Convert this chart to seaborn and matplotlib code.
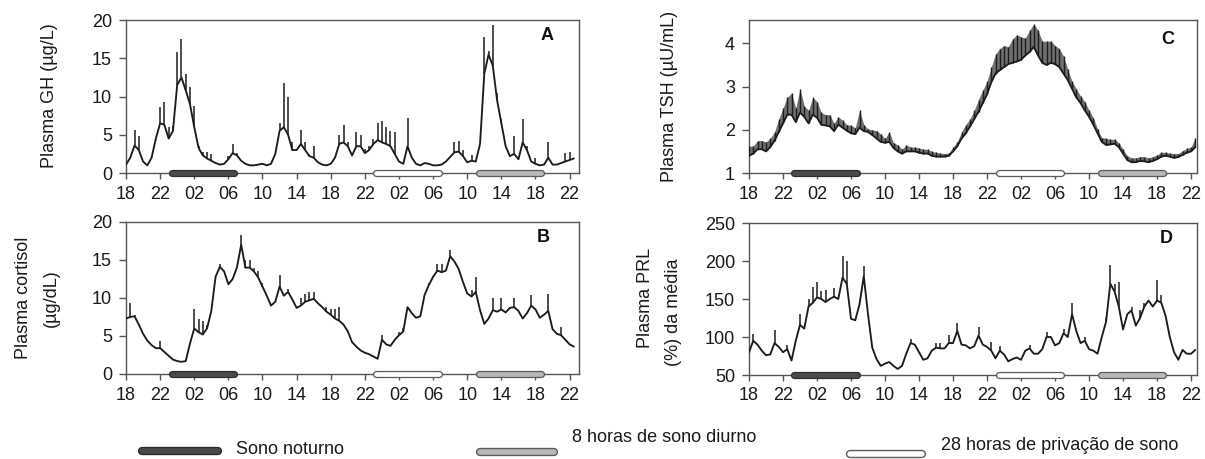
import numpy as np
import pandas as pd
import matplotlib
matplotlib.use("Agg")
import matplotlib.pyplot as plt
from matplotlib.lines import Line2D
import seaborn as sns

# ---------------- data (hours since 18:00 of day 1, 30-min steps) ----------------
hours = np.arange(0, 53, 0.5)  # 0 .. 52.5
tick_hours = list(range(0, 53, 4))
tick_labels = ["18", "22", "02", "06", "10", "14", "18", "22", "02", "06", "10", "14", "18", "22"]

gh = [1.1, 2.0, 3.6, 3.0, 1.5, 1.0, 2.0, 4.5, 6.5, 6.3,
      4.5, 5.5, 11.5, 12.5, 10.8, 9.0, 6.0, 3.3, 2.3, 1.9,
      1.6, 1.3, 1.1, 1.2, 1.8, 2.6, 2.3, 1.6, 1.2, 1.0,
      1.0, 1.1, 1.2, 1.0, 1.2, 2.5, 5.5, 6.0, 5.0, 3.0,
      3.0, 3.8, 3.0, 2.2, 2.0, 1.4, 1.1, 1.0, 1.2, 2.0,
      3.8, 4.0, 3.5, 2.3, 3.5, 3.5, 2.6, 3.0, 3.8, 4.3,
      4.0, 3.8, 3.5, 2.5, 1.5, 1.2, 3.5, 2.0, 1.2, 1.0,
      1.3, 1.2, 1.0, 1.0, 1.1, 1.5, 2.1, 2.7, 2.8, 2.2,
      1.4, 1.6, 1.5, 3.8, 13.0, 15.5, 14.0, 9.5, 6.5, 3.5,
      2.2, 2.5, 1.8, 4.0, 3.0, 1.5, 1.2, 1.0, 1.1, 2.0,
      1.1, 1.1, 1.3, 1.5, 1.7, 1.9]
gh_peak = [1.1, 2.0, 5.6, 4.8, 1.5, 1.0, 2.0, 4.5, 8.6, 9.3,
           6.0, 6.2, 15.8, 17.5, 13.0, 11.3, 8.8, 3.5, 2.8, 2.7,
           2.5, 1.3, 1.1, 1.2, 2.2, 3.8, 2.6, 1.6, 1.2, 1.0,
           1.0, 1.1, 1.3, 1.0, 1.2, 2.5, 6.5, 11.8, 10.0, 4.0,
           3.0, 5.6, 4.0, 2.5, 3.5, 1.4, 1.1, 1.0, 1.2, 2.0,
           5.0, 6.3, 4.0, 2.3, 5.3, 5.0, 3.2, 3.5, 4.5, 6.5,
           6.8, 6.0, 5.5, 5.4, 1.5, 1.2, 7.2, 2.0, 1.2, 1.0,
           1.3, 1.2, 1.0, 1.0, 1.1, 1.5, 2.1, 4.0, 4.2, 3.0,
           1.4, 2.3, 1.5, 3.8, 17.8, 16.0, 19.3, 10.5, 7.0, 3.5,
           2.2, 4.8, 1.8, 7.0, 3.5, 1.5, 2.0, 1.0, 1.1, 4.0,
           1.1, 1.1, 1.3, 2.6, 2.8, 1.9]

cortisol = [7.3, 7.5, 7.6, 6.5, 5.3, 4.4, 3.8, 3.4, 3.4, 2.9,
            2.4, 1.9, 1.7, 1.6, 1.7, 4.0, 6.0, 5.5, 5.2, 6.0,
            8.3, 12.8, 14.1, 13.5, 11.8, 12.5, 14.0, 17.0, 14.0, 14.0,
            13.5, 12.7, 11.5, 10.3, 9.0, 9.5, 11.5, 10.3, 10.8, 9.8,
            8.7, 9.0, 9.5, 9.7, 9.9, 9.3, 8.8, 8.2, 7.8, 7.3,
            7.0, 6.5, 5.6, 4.2, 3.6, 3.1, 2.8, 2.6, 2.3, 2.0,
            4.5, 3.9, 3.7, 4.5, 5.1, 5.6, 8.8, 8.0, 7.4, 7.6,
            10.4, 11.7, 12.8, 13.6, 13.4, 13.6, 15.5, 14.8, 13.8, 12.1,
            10.6, 10.2, 10.8, 8.4, 6.6, 7.3, 8.4, 8.2, 8.5, 8.1,
            8.7, 8.8, 8.3, 7.3, 8.0, 9.0, 8.5, 7.4, 7.8, 8.3,
            5.9, 5.3, 5.1, 4.5, 3.9, 3.6]
cortisol_peak = [7.3, 9.3, 7.8, 6.5, 5.3, 4.4, 3.8, 3.4, 4.4, 2.9,
                 2.4, 1.9, 1.7, 1.6, 1.7, 4.0, 8.5, 7.3, 7.0, 6.5,
                 8.3, 12.8, 14.5, 13.5, 11.8, 12.5, 14.0, 18.3, 15.0, 15.0,
                 14.0, 13.5, 12.0, 10.3, 9.0, 9.5, 13.0, 10.3, 11.2, 9.8,
                 8.7, 10.0, 10.5, 10.8, 10.8, 9.3, 8.8, 8.8, 8.5, 8.5,
                 8.8, 6.5, 5.6, 4.2, 3.6, 3.1, 2.8, 2.6, 2.3, 2.0,
                 5.1, 3.9, 3.7, 4.5, 5.5, 6.0, 8.8, 8.0, 7.4, 7.6,
                 10.4, 12.0, 12.8, 14.5, 14.5, 13.6, 16.3, 14.8, 13.8, 12.1,
                 10.6, 11.0, 12.8, 8.4, 6.6, 7.3, 10.0, 8.2, 10.0, 8.1,
                 8.7, 10.0, 8.3, 7.3, 8.0, 10.4, 8.5, 7.4, 7.8, 10.5,
                 5.9, 5.3, 6.2, 4.5, 3.9, 3.6]

tsh = [1.40, 1.45, 1.55, 1.55, 1.50, 1.60, 1.75, 1.95, 2.15, 2.35,
       2.35, 2.18, 2.40, 2.30, 2.15, 2.35, 2.28, 2.12, 2.10, 2.08,
       1.97, 2.12, 2.05, 1.98, 1.92, 1.90, 2.05, 1.97, 1.95, 1.88,
       1.80, 1.72, 1.70, 1.72, 1.58, 1.50, 1.45, 1.50, 1.50, 1.50,
       1.47, 1.45, 1.45, 1.40, 1.38, 1.38, 1.38, 1.40, 1.50, 1.62,
       1.80, 1.92, 2.08, 2.25, 2.42, 2.62, 2.82, 3.10, 3.30, 3.38,
       3.45, 3.52, 3.55, 3.58, 3.62, 3.72, 3.80, 3.92, 3.72, 3.55,
       3.50, 3.55, 3.52, 3.45, 3.30, 3.15, 2.95, 2.75, 2.62, 2.45,
       2.30, 2.12, 1.92, 1.72, 1.65, 1.66, 1.68, 1.60, 1.45, 1.30,
       1.25, 1.25, 1.28, 1.27, 1.25, 1.28, 1.32, 1.38, 1.40, 1.38,
       1.35, 1.37, 1.42, 1.47, 1.50, 1.60]
tsh_peak = [1.62, 1.62, 1.75, 1.75, 1.72, 1.80, 1.95, 2.25, 2.50, 2.75,
            2.85, 2.50, 2.95, 2.55, 2.45, 2.75, 2.65, 2.40, 2.35, 2.35,
            2.15, 2.30, 2.22, 2.12, 2.10, 2.05, 2.45, 2.12, 2.02, 2.00,
            1.98, 1.90, 1.80, 1.95, 1.70, 1.65, 1.55, 1.65, 1.60, 1.60,
            1.58, 1.55, 1.55, 1.50, 1.48, 1.46, 1.45, 1.46, 1.60, 1.72,
            1.95, 2.12, 2.25, 2.45, 2.70, 2.92, 3.12, 3.45, 3.75, 3.88,
            3.95, 3.92, 4.10, 4.20, 4.15, 4.12, 4.30, 4.45, 4.30, 4.05,
            4.05, 4.05, 3.95, 3.88, 3.70, 3.40, 3.12, 2.95, 2.78, 2.65,
            2.45, 2.28, 2.02, 1.82, 1.80, 1.78, 1.78, 1.70, 1.55, 1.40,
            1.35, 1.35, 1.38, 1.38, 1.35, 1.38, 1.42, 1.48, 1.48, 1.46,
            1.45, 1.45, 1.52, 1.57, 1.60, 1.82]

prl = [80, 95, 90, 82, 76, 77, 92, 87, 80, 84,
       69, 95, 116, 111, 140, 145, 152, 150, 146, 150,
       153, 150, 178, 170, 124, 122, 143, 180, 130, 86,
       71, 62, 65, 67, 62, 58, 62, 78, 92, 90,
       80, 70, 72, 82, 86, 85, 85, 92, 92, 108,
       90, 89, 85, 88, 102, 90, 87, 82, 72, 82,
       77, 68, 71, 73, 70, 82, 85, 78, 78, 84,
       100, 100, 89, 92, 105, 100, 130, 108, 92, 95,
       84, 82, 78, 100, 120, 170, 160, 140, 110, 130,
       135, 115, 125, 140, 148, 140, 148, 145, 128, 100,
       80, 70, 83, 78, 78, 83]
prl_peak = [80, 104, 90, 82, 76, 77, 109, 87, 80, 90,
            69, 95, 130, 111, 150, 166, 172, 160, 162, 150,
            165, 150, 207, 200, 124, 122, 143, 194, 130, 86,
            71, 62, 65, 67, 62, 58, 62, 78, 98, 90,
            80, 70, 72, 82, 92, 92, 85, 102, 92, 118,
            90, 89, 85, 88, 113, 90, 87, 93, 72, 88,
            77, 68, 71, 73, 70, 82, 90, 78, 78, 84,
            107, 100, 89, 92, 111, 100, 145, 108, 92, 100,
            84, 82, 78, 100, 125, 195, 170, 172, 110, 130,
            140, 115, 135, 145, 148, 140, 175, 155, 128, 100,
            80, 70, 83, 78, 78, 83]

# sleep conditions (start, end in hours since 18:00)
sono_noturno = (5, 13)       # 23:00 - 07:00
privacao = (29, 37)          # night of sleep deprivation
sono_diurno = (41, 49)       # 11:00 - 19:00

legend_labels = ["Sono noturno", "8 horas de sono diurno", "28 horas de privação de sono"]

# ---------------- style ----------------
sns.set_theme(style="ticks")
plt.rcParams["font.family"] = ["Liberation Sans", "DejaVu Sans"]

W, H = 1205, 459
fig = plt.figure(figsize=(W / 100, H / 100), dpi=100)

LINE = "#1c1c1c"
SPINE = "#555555"
BAR_STYLES = {
    "night": ("#4a4a4a", "#2e2e2e"),
    "dep": ("#ffffff", "#5a5a5a"),
    "day": ("#b8b8b8", "#5a5a5a"),
}


def add_axes_px(l, t, r, b):
    return fig.add_axes([l / W, 1 - b / H, (r - l) / W, (b - t) / H])


def sleep_bar(ax, period, style, y):
    fill, edge = BAR_STYLES[style]
    s, e = period
    ax.plot([s + 0.35, e - 0.35], [y, y], lw=5.2, color=edge, solid_capstyle="round",
            clip_on=False, zorder=6)
    ax.plot([s + 0.35, e - 0.35], [y, y], lw=3.4, color=fill, solid_capstyle="round",
            clip_on=False, zorder=7)


panels = [
    dict(box=(126, 20, 579, 173), xmax=53.1, ylim=(0, 20), yticks=[0, 5, 10, 15, 20],
         base=gh, peak=gh_peak, letter="A", lpos=(0.93, 0.90), band=False),
    dict(box=(126, 222, 579, 374), xmax=53.1, ylim=(0, 20), yticks=[0, 5, 10, 15, 20],
         base=cortisol, peak=cortisol_peak, letter="B", lpos=(0.922, 0.90), band=False),
    dict(box=(749, 20, 1197, 173), xmax=52.7, ylim=(1, 4.54), yticks=[1, 2, 3, 4],
         base=tsh, peak=tsh_peak, letter="C", lpos=(0.935, 0.87), band=True),
    dict(box=(749, 223, 1197, 375), xmax=52.7, ylim=(50, 250), yticks=[50, 100, 150, 200, 250],
         base=prl, peak=prl_peak, letter="D", lpos=(0.932, 0.90), band=False),
]

for p in panels:
    ax = add_axes_px(*p["box"])
    base = np.array(p["base"], dtype=float)
    peak = np.array(p["peak"], dtype=float)
    df = pd.DataFrame({"hora": hours, "valor": base})
    if p["band"]:
        ax.fill_between(hours, base, peak, color="#707070", lw=0, zorder=2)
        ax.vlines(hours, base, peak, color=LINE, lw=1.0, zorder=3)
    else:
        m = peak > base
        ax.vlines(hours[m], base[m], peak[m], color=LINE, lw=1.1, zorder=3)
    sns.lineplot(data=df, x="hora", y="valor", ax=ax, color=LINE, lw=1.35, zorder=4)

    ax.set_xlim(0, p["xmax"])
    ax.set_ylim(*p["ylim"])
    ax.set_xticks(tick_hours)
    ax.set_xticklabels(tick_labels)
    ax.set_yticks(p["yticks"])
    ax.set_xlabel("")
    ax.set_ylabel("")
    for sp in ax.spines.values():
        sp.set_visible(True)
        sp.set_color(SPINE)
        sp.set_linewidth(1.0)
    ax.tick_params(axis="x", length=4, width=1.0, pad=5, colors=SPINE,
                   labelcolor="#1a1a1a", labelsize=13)
    ax.tick_params(axis="y", length=5, width=1.0, pad=5, colors=SPINE,
                   labelcolor="#1a1a1a", labelsize=13)
    ax.text(*p["lpos"], p["letter"], transform=ax.transAxes, fontsize=13,
            fontweight="bold", ha="center", va="center", color="#111111")

    y0 = p["ylim"][0]
    sleep_bar(ax, sono_noturno, "night", y0)
    sleep_bar(ax, privacao, "dep", y0)
    sleep_bar(ax, sono_diurno, "day", y0)


def ftext(x, y, s, **kw):
    fig.text(x / W, 1 - y / H, s, fontsize=13, color="#1a1a1a", **kw)


# y labels
ftext(50, 96, "Plasma GH (µg/L)", rotation=90, ha="center", va="center")
ftext(24, 298, "Plasma cortisol", rotation=90, ha="center", va="center")
ftext(51, 298, "(µg/dL)", rotation=90, ha="center", va="center")
ftext(669, 96, "Plasma TSH (µU/mL)", rotation=90, ha="center", va="center")
ftext(645, 298, "Plasma PRL", rotation=90, ha="center", va="center")
ftext(673, 312, "(%) da média", rotation=90, ha="center", va="center")

# legend at bottom


def legend_bar(x0, x1, y, style):
    fill, edge = BAR_STYLES[style]
    for lw, c in ((6.0, edge), (4.0, fill)):
        fig.add_artist(Line2D([(x0 + 4) / W, (x1 - 4) / W], [1 - y / H, 1 - y / H],
                              transform=fig.transFigure, lw=lw, color=c,
                              solid_capstyle="round"))


legend_bar(138, 222, 451, "night")
ftext(236, 449, legend_labels[0], ha="left", va="center")
legend_bar(476, 558, 452, "day")
ftext(572, 438, legend_labels[1], ha="left", va="center")
legend_bar(846, 926, 454, "dep")
ftext(941, 446, legend_labels[2], ha="left", va="center")

fig.savefig("out.png", dpi=100, facecolor="white")
